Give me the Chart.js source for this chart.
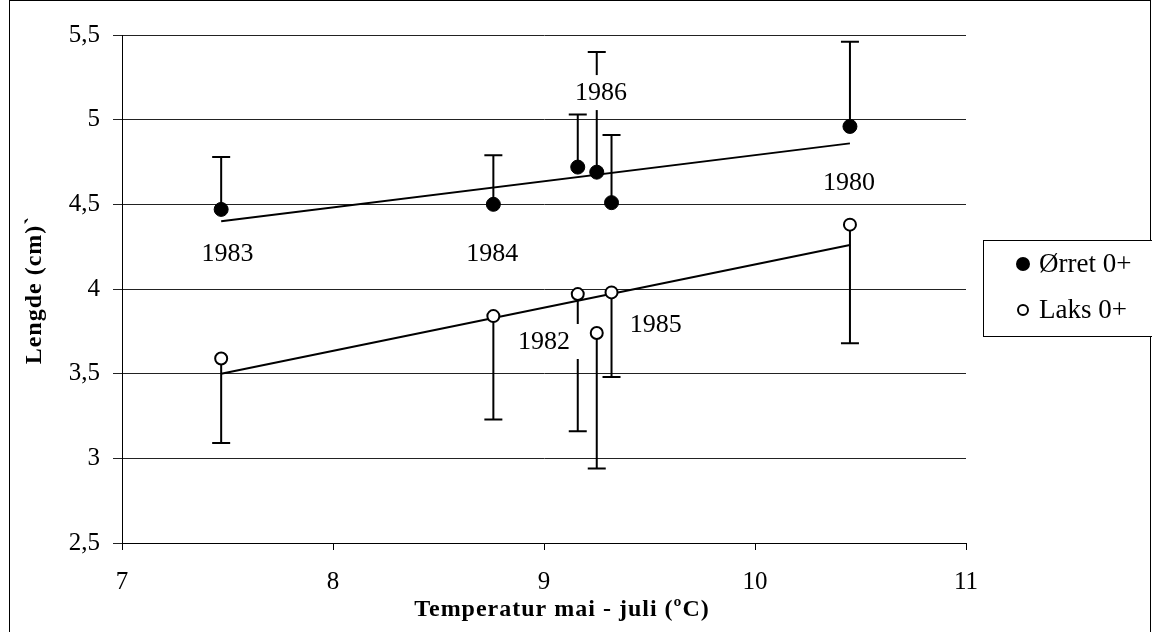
<!DOCTYPE html>
<html>
<head>
<meta charset="utf-8">
<script src="https://cdn.jsdelivr.net/npm/chart.js@4/dist/chart.umd.min.js"></script>
<style>
  body { margin: 0; background: #fff; }
  canvas { display: block; }
</style>
</head>
<body>
<canvas id="lengthChart" width="1152" height="632"></canvas>
<script>
// values
var years = ['1983', '1984', '1982', '1986', '1985', '1980'];
var tempX = [7.47, 8.76, 9.16, 9.25, 9.32, 10.45];
var orretMean = [4.47, 4.50, 4.72, 4.69, 4.51, 4.96];
var orretTop = [4.78, 4.79, 5.03, 5.40, 4.91, 5.46];
var laksMean = [3.59, 3.84, 3.97, 3.74, 3.98, 4.38];
var laksBottom = [3.09, 3.23, 3.16, 2.94, 3.48, 3.68];
var orretTrendX = [7.47, 10.45];
var orretTrendY = [4.40, 4.86];
var laksTrendX = [7.47, 10.45];
var laksTrendY = [3.50, 4.26];
var yTicks = [2.5, 3, 3.5, 4, 4.5, 5, 5.5];
var xTicks = [7, 8, 9, 10, 11];

// year labels, anchored in data units
var yearLabels = [
  { text: '1983', x: 7.50, y: 4.21 },
  { text: '1984', x: 8.755, y: 4.21 },
  { text: '1986', x: 9.27, y: 5.16 },
  { text: '1980', x: 10.445, y: 4.63 },
  { text: '1982', x: 9.00, y: 3.69 },
  { text: '1985', x: 9.53, y: 3.79 }
];

var serif = '"Liberation Serif", "Times New Roman", serif';

function pts(xs, ys) {
  return xs.map(function(v, i) { return { x: v, y: ys[i] }; });
}

var framePlugin = {
  id: 'frame',
  beforeDraw: function(chart) {
    var ctx = chart.ctx;
    ctx.save();
    ctx.fillStyle = '#fff';
    ctx.fillRect(0, 0, chart.width, chart.height);
    ctx.strokeStyle = '#000';
    ctx.lineWidth = 1;
    ctx.strokeRect(9.5, 0.5, 1141, 700);
    ctx.restore();
  }
};

var errorBarPlugin = {
  id: 'errorBars',
  beforeDatasetsDraw: function(chart) {
    var ctx = chart.ctx, x = chart.scales.x, y = chart.scales.y;
    ctx.save();
    ctx.strokeStyle = '#000';
    ctx.lineWidth = 2;
    function bar(xv, from, to) {
      var px = x.getPixelForValue(xv);
      var y0 = y.getPixelForValue(from), y1 = y.getPixelForValue(to);
      ctx.beginPath();
      ctx.moveTo(px, y0); ctx.lineTo(px, y1);
      ctx.moveTo(px - 9, y1); ctx.lineTo(px + 9, y1);
      ctx.stroke();
    }
    tempX.forEach(function(t, i) {
      bar(t, orretMean[i], orretTop[i]);
      bar(t, laksMean[i], laksBottom[i]);
    });
    ctx.restore();
  }
};

var labelPlugin = {
  id: 'yearLabels',
  afterDatasetsDraw: function(chart) {
    var ctx = chart.ctx, x = chart.scales.x, y = chart.scales.y;
    ctx.save();
    ctx.font = '26px ' + serif;
    ctx.textAlign = 'center';
    ctx.textBaseline = 'middle';
    yearLabels.forEach(function(l) {
      var px = x.getPixelForValue(l.x), py = y.getPixelForValue(l.y);
      var w = ctx.measureText(l.text).width;
      ctx.fillStyle = '#fff';
      ctx.fillRect(px - w / 2 - 11, py - 17.5, w + 22, 35);
      ctx.fillStyle = '#000';
      ctx.fillText(l.text, px, py + 1);
    });
    ctx.restore();
  }
};

var titlePlugin = {
  id: 'axisTitles',
  afterDraw: function(chart) {
    var ctx = chart.ctx;
    ctx.save();
    ctx.fillStyle = '#000';
    ctx.font = 'bold 24px ' + serif;
    ctx.letterSpacing = '1px';
    ctx.textAlign = 'center';
    ctx.textBaseline = 'middle';
    ctx.fillText('Temperatur mai - juli (\u00baC)', 562, 610);
    ctx.translate(35, 290);
    ctx.rotate(-Math.PI / 2);
    ctx.fillText('Lengde (cm)`', 0, 0);
    ctx.restore();
  }
};

var legendPlugin = {
  id: 'boxLegend',
  afterDraw: function(chart) {
    var ctx = chart.ctx;
    ctx.save();
    ctx.strokeStyle = '#000';
    ctx.lineWidth = 1;
    ctx.fillStyle = '#fff';
    ctx.fillRect(983.5, 240.5, 180, 96);
    ctx.strokeRect(983.5, 240.5, 180, 96);
    var rows = [
      { text: chart.data.datasets[0].label, y: 264, fill: '#000', r: 6 },
      { text: chart.data.datasets[1].label, y: 310, fill: '#fff', r: 5 }
    ];
    ctx.font = '27px ' + serif;
    ctx.textBaseline = 'middle';
    rows.forEach(function(r) {
      ctx.beginPath();
      ctx.arc(1023, r.y, r.r, 0, Math.PI * 2);
      ctx.fillStyle = r.fill;
      ctx.fill();
      ctx.lineWidth = 2;
      ctx.stroke();
      ctx.fillStyle = '#000';
      ctx.fillText(r.text, 1039, r.y + 1);
    });
    ctx.restore();
  }
};

var ctx = document.getElementById('lengthChart').getContext('2d');
var lengthChart = new Chart(ctx, {
  type: 'scatter',
  data: {
    datasets: [{
      label: '\u00d8rret 0+',
      data: pts(tempX, orretMean),
      pointRadius: 7,
      pointBackgroundColor: '#000',
      pointBorderColor: '#000',
      pointBorderWidth: 1,
      order: 1
    }, {
      label: 'Laks 0+',
      data: pts(tempX, laksMean),
      pointRadius: 6,
      pointBackgroundColor: '#fff',
      pointBorderColor: '#000',
      pointBorderWidth: 2,
      order: 1
    }, {
      label: 'trend \u00d8rret',
      type: 'line',
      data: pts(orretTrendX, orretTrendY),
      borderColor: '#000',
      borderWidth: 2,
      pointRadius: 0,
      fill: false,
      order: 2
    }, {
      label: 'trend Laks',
      type: 'line',
      data: pts(laksTrendX, laksTrendY),
      borderColor: '#000',
      borderWidth: 2,
      pointRadius: 0,
      fill: false,
      order: 2
    }]
  },
  options: {
    responsive: false,
    animation: false,
    devicePixelRatio: 1,
    layout: { padding: { left: 0, top: 35, right: 186, bottom: 0 } },
    plugins: {
      legend: { display: false },
      tooltip: { enabled: false }
    },
    scales: {
      x: {
        type: 'linear',
        min: 7,
        max: 11,
        afterBuildTicks: function(scale) {
          scale.ticks = xTicks.map(function(v) { return { value: v }; });
        },
        afterFit: function(scale) { scale.height = 89; },
        grid: { drawOnChartArea: false, color: '#000', tickLength: 7, lineWidth: 1 },
        border: { color: '#000', width: 1 },
        ticks: { color: '#000', font: { family: serif, size: 25 }, padding: 17, maxRotation: 0 }
      },
      y: {
        type: 'linear',
        min: 2.5,
        max: 5.5,
        afterBuildTicks: function(scale) {
          scale.ticks = yTicks.map(function(v) { return { value: v }; });
        },
        afterFit: function(scale) { scale.width = 122; },
        grid: { color: '#222', tickLength: 9, lineWidth: 1 },
        border: { color: '#000', width: 1 },
        ticks: {
          color: '#000',
          font: { family: serif, size: 25 },
          padding: 13,
          callback: function(value) { return String(value).replace('.', ','); }
        }
      }
    }
  },
  plugins: [framePlugin, errorBarPlugin, labelPlugin, titlePlugin, legendPlugin]
});
</script>
</body>
</html>
